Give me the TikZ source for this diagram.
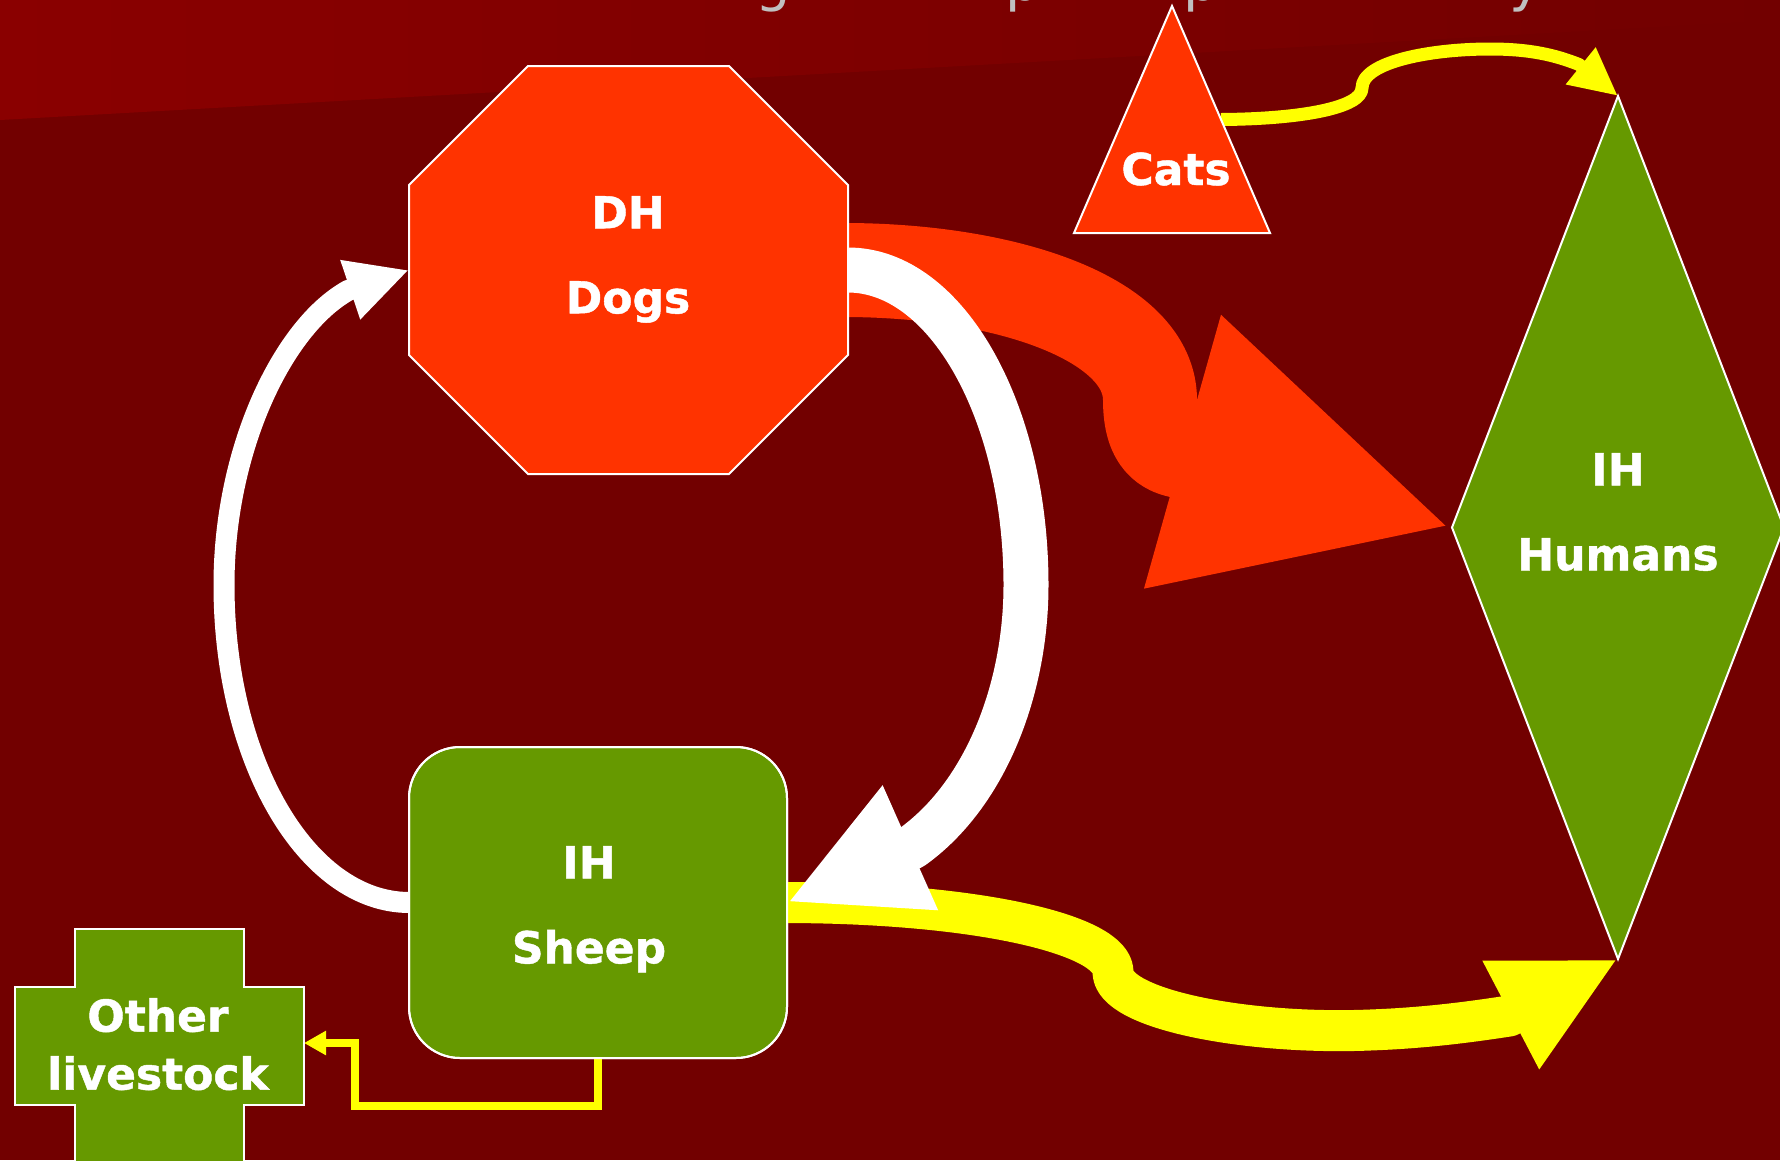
\documentclass[tikz,border=0pt]{standalone}
\usepackage{fontspec}
\setmainfont{DejaVu Sans}[BoldFeatures={FakeBold=1}]
\usetikzlibrary{arrows.meta,shapes.geometric}
\definecolor{bgred}{HTML}{720000}
\definecolor{bgtop}{HTML}{8A0000}
\definecolor{dhred}{HTML}{FF3300}
\definecolor{ihgreen}{HTML}{669900}
\definecolor{flowyel}{HTML}{FFFF00}
\definecolor{titlegray}{HTML}{C0C0C0}

\begin{document}
\begin{tikzpicture}[x=1pt,y=-1pt,
        hostshape/.style={draw=white, line width=2pt, inner sep=0pt, outer sep=0pt},
        hosttext/.style={text=white, font=\fontsize{44}{85}\selectfont\bfseries, align=center, inner sep=0pt},
        titleglyph/.style={text=titlegray, font=\fontsize{56}{60}\selectfont, anchor=base, inner sep=0pt},
        flow/.style={line join=round}]
                \useasboundingbox (0,0) rectangle (1780,1160);
                \fill[bgred] (0,0) rectangle (1780,1160);
                \shade[left color=bgtop, right color=bgred] (0,0) -- (1780,0) -- (1780,20) -- (0,120) -- cycle;
                \begin{scope}
                \clip (0,0) rectangle (1780,1160);
                \node[titleglyph] (tg1) at (773,0) {g};
                \node[titleglyph] (tg2) at (1023,0) {p};
                \node[titleglyph] (tg3) at (1201,0) {p};
                \node[titleglyph] (tg4) at (1526,0) {y};
                \end{scope}

                \node[minimum width=439pt, minimum height=408pt, inner sep=0pt, outer sep=0pt] (dogs) at (628.5,270) {};
                \node[hostshape, fill=ihgreen, rounded corners=51pt, minimum width=378pt, minimum height=311pt] (sheep) at (598,902.5) {};
                \node[hostshape, fill=ihgreen, diamond, aspect=0.385, minimum width=332pt, minimum height=863pt] (humans) at (1618,527.5) {};
                \node[minimum width=289pt, minimum height=118pt, inner sep=0pt, outer sep=0pt] (other) at (159.5,1043) {};
                \coordinate (catsR) at (1221,119.5);

                \draw[flow, dhred, line width=94pt, -{Triangle[width=262pt,length=280pt]}] (dogs.east) .. controls (1010,271) and (1150,320) .. (1150,400) .. controls (1150,432) and (1160,447) .. (1180,451) -- (humans.west);
                \draw[flow, flowyel, line width=41pt, -{Triangle[width=113pt,length=121pt]}] (sheep.east) .. controls (980,903) and (1113,935) .. (1113,972) .. controls (1113,1010) and (1250,1035) .. (1370,1030) .. controls (1425,1028) and (1470,1022) .. (1509,1016) -- (humans.south);
                \draw[flow, flowyel, line width=13pt, -{Triangle[width=44pt,length=48pt]}] (catsR) .. controls (1300,119) and (1362,108) .. (1362,88) .. controls (1362,62) and (1430,49) .. (1490,49) .. controls (1530,49) and (1555,55) .. (1579,64.5) -- (humans.north);
                \draw[flowyel, line width=8pt, -{Triangle[width=23pt,length=22pt]}] (sheep.south) -- (598,1106) -| (355,1043) -- (other.east);
                \draw[flow, white, line width=45pt, -{Triangle[width=126pt,length=135pt]}] (dogs.east) .. controls (946,270) and (1026,411) .. (1026,585) .. controls (1026,690) and (985,795) .. (912,847) -- (sheep.east);
                \draw[flow, white, line width=21pt, -{Triangle[width=58pt,length=62pt]}] (sheep.west) .. controls (306,902) and (224,760) .. (224,585) .. controls (224,449) and (283,327) .. (348,290.5) -- (dogs.west);

                \filldraw[draw=white, line width=2pt, fill=dhred] (528,66) -- (729,66) -- (848,185) -- (848,355) -- (729,474) -- (528,474) -- (409,355) -- (409,185) -- cycle;
                \filldraw[draw=white, line width=2pt, fill=dhred] (1172,6) -- (1270,233) -- (1074,233) -- cycle;
                \filldraw[draw=white, line width=2pt, fill=ihgreen] (75,929) -- (244,929) -- (244,987) -- (304,987) -- (304,1105) -- (244,1105) -- (244,1163) -- (75,1163) -- (75,1105) -- (15,1105) -- (15,987) -- (75,987) -- cycle;
                \draw[white, line width=2pt, rounded corners=51pt] (sheep.north west) rectangle (sheep.south east);

                \node[hosttext, anchor=north] (dogstext) at (628,196) {DH\\Dogs};
                \node[hosttext, anchor=base] (catstext) at (1176,185) {Cats};
                \node[hosttext, anchor=north] (humanstext) at (1618,453) {IH\\Humans};
                \node[hosttext, anchor=north] (sheeptext) at (589,846) {IH\\Sheep};
                \node[hosttext, anchor=north, font=\fontsize{44}{58}\selectfont\bfseries] (othertext) at (158,998) {Other\\livestock};
            \end{tikzpicture}
\end{document}
